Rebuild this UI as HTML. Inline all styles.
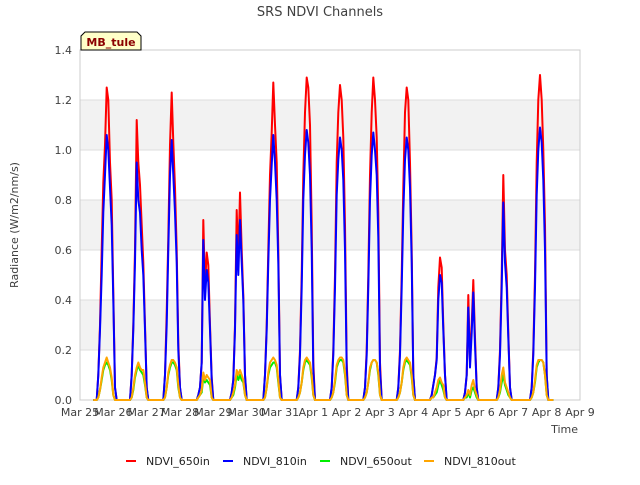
<!DOCTYPE html>
<html><head><meta charset="utf-8"><style>
body{margin:0;background:#fff;font-family:"Liberation Sans","DejaVu Sans",sans-serif}
svg text{font-family:"DejaVu Sans","Liberation Sans",sans-serif}
</style></head><body>
<svg id="c" width="640" height="480" xmlns="http://www.w3.org/2000/svg">
<text x="320" y="16" text-anchor="middle" font-size="13" fill="#404040">SRS NDVI Channels</text>
<g id="bands"></g><g id="grid"></g>
<rect x="80" y="50" width="500" height="350" fill="none" stroke="#ccc"/>
<g id="series"></g><g id="axes"></g>
<text x="18" y="225" transform="rotate(-90 18 225)" text-anchor="middle" font-size="11" fill="#404040">Radiance (W/m2/nm/s)</text>
<text x="578" y="433" text-anchor="end" font-size="11" fill="#404040">Time</text>
<g><path d="M81,50 L81,36 L85,32 L137,32 L141,36 L141,50 Z" fill="#ffffc8" stroke="#000"/>
<text x="111" y="46" text-anchor="middle" font-size="11" font-weight="bold" fill="#8b0000">MB_tule</text></g>
<g id="legend"></g>
</svg>
<script>
const tickLabels=["Mar 25","Mar 26","Mar 27","Mar 28","Mar 29","Mar 30","Mar 31","Apr 1","Apr 2","Apr 3","Apr 4","Apr 5","Apr 6","Apr 7","Apr 8","Apr 9"];
const yTicks=[0,0.2,0.4,0.6,0.8,1.0,1.2,1.4];
const sampleOffsets=[0.5,0.55,0.6,0.65,0.7,0.75,0.8,0.85,0.9,0.95,1.0,1.05,1.1];
const s650in=[
[0,0.1,0.3,0.6,0.87,1.02,1.25,1.2,0.95,0.8,0.43,0.05,0],
[0,0.1,0.3,0.6,1.12,0.95,0.86,0.7,0.55,0.3,0.05,0,0],
[0,0.1,0.35,0.65,1.02,1.23,1.03,0.85,0.6,0.23,0.05,0,0],
[0,0.02,0.05,0.15,0.72,0.45,0.59,0.54,0.3,0.09,0,0,0],
[0,0.03,0.08,0.3,0.76,0.55,0.83,0.6,0.42,0.1,0,0,0],
[0,0.1,0.3,0.6,0.9,1.07,1.27,1.1,0.95,0.6,0.1,0,0],
[0,0.05,0.2,0.5,0.9,1.15,1.29,1.25,1.1,0.7,0.15,0,0],
[0,0.05,0.2,0.5,0.95,1.15,1.26,1.2,1.05,0.7,0.15,0,0],
[0,0.05,0.2,0.5,0.9,1.15,1.29,1.2,1.05,0.75,0.15,0,0],
[0,0.05,0.2,0.5,0.85,1.15,1.25,1.2,0.95,0.6,0.1,0,0],
[0,0.02,0.06,0.1,0.17,0.45,0.57,0.53,0.3,0.1,0,0,0],
[0,0.03,0.1,0.42,0.15,0.3,0.48,0.25,0.05,0,0,0,0],
[0,0.05,0.2,0.5,0.9,0.6,0.5,0.27,0.05,0,0,0,0],
[0,0.05,0.2,0.5,0.95,1.2,1.3,1.2,1.0,0.7,0.1,0,0]];
const s810in=[
[0,0.1,0.28,0.5,0.75,0.9,1.06,1.0,0.85,0.7,0.4,0.05,0],
[0,0.1,0.28,0.55,0.95,0.8,0.75,0.6,0.5,0.28,0.05,0,0],
[0,0.1,0.3,0.6,0.9,1.04,0.9,0.75,0.55,0.2,0.05,0,0],
[0,0.02,0.05,0.15,0.64,0.4,0.52,0.47,0.28,0.08,0,0,0],
[0,0.03,0.08,0.28,0.66,0.5,0.72,0.55,0.4,0.1,0,0,0],
[0,0.1,0.28,0.55,0.8,0.94,1.06,0.95,0.8,0.55,0.1,0,0],
[0,0.05,0.18,0.45,0.8,0.98,1.08,1.03,0.9,0.6,0.12,0,0],
[0,0.05,0.18,0.45,0.82,0.96,1.05,1.0,0.88,0.6,0.12,0,0],
[0,0.05,0.18,0.45,0.8,0.98,1.07,1.0,0.9,0.65,0.12,0,0],
[0,0.05,0.18,0.45,0.75,0.96,1.05,1.0,0.85,0.55,0.1,0,0],
[0,0.02,0.06,0.1,0.16,0.4,0.5,0.47,0.28,0.1,0,0,0],
[0,0.03,0.1,0.37,0.13,0.27,0.43,0.22,0.05,0,0,0,0],
[0,0.05,0.18,0.45,0.79,0.55,0.45,0.25,0.05,0,0,0,0],
[0,0.05,0.18,0.45,0.82,1.0,1.09,1.03,0.88,0.6,0.1,0,0]];
const s650out=[
[0,0.01,0.04,0.08,0.12,0.14,0.15,0.14,0.12,0.08,0.02,0,0],
[0,0.01,0.04,0.09,0.12,0.14,0.12,0.11,0.1,0.06,0.01,0,0],
[0,0.01,0.05,0.1,0.13,0.15,0.15,0.14,0.12,0.05,0.01,0,0],
[0,0.01,0.02,0.03,0.09,0.07,0.08,0.07,0.06,0.01,0,0,0],
[0,0.01,0.02,0.05,0.1,0.08,0.1,0.08,0.07,0.02,0,0,0],
[0,0.01,0.05,0.1,0.13,0.14,0.15,0.15,0.13,0.07,0.01,0,0],
[0,0.01,0.03,0.07,0.12,0.15,0.16,0.15,0.14,0.09,0.02,0,0],
[0,0.01,0.03,0.07,0.13,0.15,0.16,0.16,0.15,0.1,0.02,0,0],
[0,0.01,0.03,0.07,0.12,0.15,0.16,0.16,0.15,0.1,0.02,0,0],
[0,0.01,0.03,0.07,0.12,0.15,0.16,0.15,0.14,0.09,0.02,0,0],
[0,0.01,0.01,0.02,0.03,0.06,0.08,0.06,0.04,0.01,0,0,0],
[0,0.01,0.01,0.03,0.01,0.04,0.05,0.03,0.01,0,0,0,0],
[0,0.01,0.03,0.07,0.1,0.06,0.04,0.02,0.01,0,0,0,0],
[0,0.01,0.03,0.07,0.13,0.15,0.16,0.16,0.15,0.1,0.02,0,0]];
const s810out=[
[0,0.01,0.04,0.09,0.13,0.15,0.17,0.15,0.13,0.09,0.02,0,0],
[0,0.01,0.05,0.1,0.13,0.15,0.13,0.12,0.12,0.07,0.01,0,0],
[0,0.01,0.05,0.11,0.14,0.16,0.16,0.15,0.13,0.06,0.01,0,0],
[0,0.01,0.02,0.04,0.11,0.08,0.1,0.09,0.08,0.01,0,0,0],
[0,0.01,0.03,0.06,0.12,0.1,0.12,0.1,0.08,0.02,0,0,0],
[0,0.01,0.05,0.11,0.15,0.16,0.17,0.16,0.14,0.08,0.01,0,0],
[0,0.01,0.03,0.07,0.13,0.16,0.17,0.16,0.15,0.1,0.02,0,0],
[0,0.01,0.03,0.08,0.14,0.16,0.17,0.17,0.16,0.11,0.02,0,0],
[0,0.01,0.03,0.07,0.13,0.15,0.16,0.16,0.15,0.11,0.02,0,0],
[0,0.01,0.03,0.07,0.13,0.16,0.17,0.16,0.15,0.1,0.02,0,0],
[0,0.01,0.01,0.03,0.05,0.08,0.09,0.07,0.06,0.01,0,0,0],
[0,0.01,0.02,0.04,0.02,0.06,0.08,0.04,0.02,0,0,0,0],
[0,0.01,0.04,0.1,0.13,0.07,0.05,0.03,0.01,0,0,0,0],
[0,0.01,0.03,0.08,0.14,0.16,0.16,0.16,0.15,0.1,0.02,0,0]];
const X0=80,X1=580,Y0=400,Y1=50;
const xs=d=>X0+d/15*(X1-X0);
const ys=v=>Y0-v/1.4*(Y0-Y1);
const NS="http://www.w3.org/2000/svg";
function mk(t,a,p){const e=document.createElementNS(NS,t);for(const k in a)e.setAttribute(k,a[k]);p.appendChild(e);return e;}
const bands=document.getElementById('bands'),grid=document.getElementById('grid'),axes=document.getElementById('axes');
for(let i=1;i<yTicks.length-1;i+=2){
 const b=mk('rect',{x:X0,y:ys(yTicks[i+1]),width:X1-X0,height:ys(yTicks[i])-ys(yTicks[i+1]),fill:'#f2f2f2'},bands);
 
 
}
yTicks.forEach(v=>{
 const l=mk('line',{x1:X0,x2:X1,y1:ys(v),y2:ys(v),stroke:'#ddd'},grid);
 
 
 const t=mk('text',{x:X0-8,y:ys(v)+4,'text-anchor':'end','font-size':'11',fill:'#404040'},axes);
 t.textContent=v.toFixed(1);
 
 
});
tickLabels.forEach((s,i)=>{
 const t=mk('text',{x:xs(i),y:416,'text-anchor':'middle','font-size':'11',fill:'#404040'},axes);
 t.textContent=s;
 
 
});
const series=[["NDVI_650in","#ff0000",s650in],["NDVI_810in","#0000ff",s810in],["NDVI_650out","#00ee00",s650out],["NDVI_810out","#ffa500",s810out]];
const sg=document.getElementById('series');
series.forEach(([name,col,data])=>{
 let pts=[[xs(0.4),ys(0)]];
 data.forEach((day,d)=>day.forEach((v,k)=>pts.push([xs(d+sampleOffsets[k]),ys(v)])));
 pts.push([xs(14.2),ys(0)]);
 const p=mk('polyline',{points:pts.map(q=>q[0].toFixed(1)+','+q[1].toFixed(1)).join(' '),fill:'none',stroke:col,'stroke-width':'2','stroke-linejoin':'round'},sg);
 
 
});
const lg=document.getElementById('legend');
const lx=[126,223,320,424];
series.forEach(([name,col],i)=>{
 const g=mk('g',{},lg);
 
 
 mk('line',{x1:lx[i],x2:lx[i]+10,y1:461,y2:461,stroke:col,'stroke-width':'2'},g);
 const t=mk('text',{x:lx[i]+20,y:465,'font-size':'11',fill:'#222'},g);
 t.textContent=name;
});
</script>
</body></html>
